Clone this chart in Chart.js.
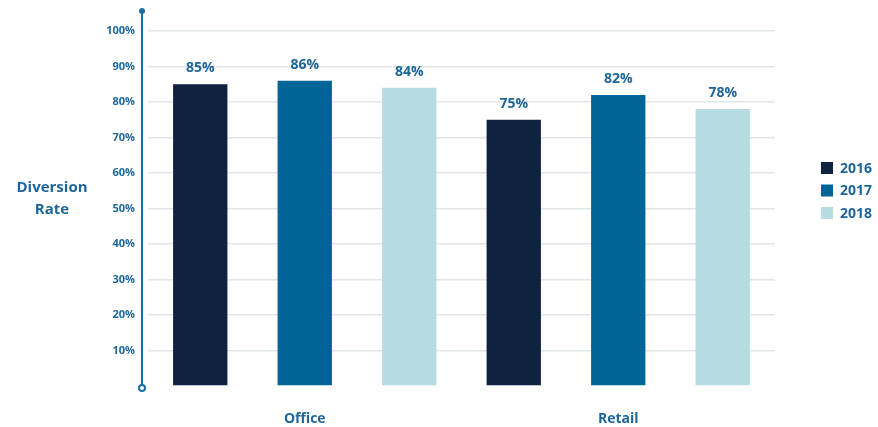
<!DOCTYPE html>
<html>
<head>
<meta charset="utf-8">
<script src="https://cdn.jsdelivr.net/npm/chart.js@4"></script>
<style>
  html, body { margin: 0; padding: 0; background: #fff; }
  #wrap { width: 878px; height: 427px; position: relative; }
</style>
</head>
<body>
<div id="wrap"><canvas id="chart"></canvas></div>
<script>
const categories = ['Office', 'Retail'];
const years = ['2016', '2017', '2018'];
const rate2016 = [85, 75];
const rate2017 = [86, 82];
const rate2018 = [84, 78];
const yTicks = [10, 20, 30, 40, 50, 60, 70, 80, 90, 100];

const colors = ['#0f2240', '#006496', '#b7dbe3'];
const textBlue = '#1e6699';
const fontFam = '"Open Sans", Lato, sans-serif';

// axis line, data labels, side title and legend
const extras = {
    id: 'extras',
    afterDatasetsDraw(chart) {
        const ctx = chart.ctx;
        const area = chart.chartArea;
        ctx.save();
        // vertical axis with dot on top and ring at bottom
        const ax = 142;
        ctx.strokeStyle = '#1a6ea3';
        ctx.lineWidth = 2;
        ctx.beginPath();
        ctx.moveTo(ax, 11);
        ctx.lineTo(ax, area.bottom - 1);
        ctx.stroke();
        ctx.fillStyle = '#1a6ea3';
        ctx.beginPath();
        ctx.arc(ax, 11, 3, 0, Math.PI * 2);
        ctx.fill();
        ctx.fillStyle = '#fff';
        ctx.beginPath();
        ctx.arc(ax, area.bottom + 2, 3, 0, Math.PI * 2);
        ctx.fill();
        ctx.stroke();

        // value labels
        ctx.fillStyle = textBlue;
        ctx.font = 'bold 14px ' + fontFam;
        ctx.textAlign = 'center';
        ctx.textBaseline = 'bottom';
        chart.data.datasets.forEach((ds, i) => {
            chart.getDatasetMeta(i).data.forEach((bar, j) => {
                ctx.fillText(ds.data[j] + '%', bar.x, bar.y - 9);
            });
        });

        // side title
        ctx.font = 'bold 15px ' + fontFam;
        ctx.textBaseline = 'middle';
        ctx.fillText('Diversion', 52, 188);
        ctx.fillText('Rate', 52, 210);

        // legend
        ctx.font = 'bold 14px ' + fontFam;
        ctx.textAlign = 'left';
        chart.data.datasets.forEach((ds, i) => {
            const y = 168 + i * 22.5;
            ctx.fillStyle = ds.backgroundColor;
            ctx.fillRect(821, y - 6, 12, 12);
            ctx.fillStyle = textBlue;
            ctx.fillText(ds.label, 840, y + 1);
        });
        ctx.restore();
    }
};

new Chart(document.getElementById('chart').getContext('2d'), {
    type: 'bar',
    data: {
        labels: categories,
        datasets: [
            { label: years[0], data: rate2016, backgroundColor: colors[0] },
            { label: years[1], data: rate2017, backgroundColor: colors[1] },
            { label: years[2], data: rate2018, backgroundColor: colors[2] }
        ]
    },
    options: {
        responsive: true,
        maintainAspectRatio: false,
        animation: false,
        layout: { padding: { top: 31, right: 103, left: 0, bottom: 0 } },
        datasets: {
            bar: { categoryPercentage: 1.0, barPercentage: 0.52 }
        },
        plugins: {
            legend: { display: false },
            tooltip: { enabled: false }
        },
        scales: {
            x: {
                grid: { display: false },
                border: { display: false },
                ticks: {
                    color: textBlue,
                    font: { family: fontFam, size: 14, weight: 'bold' },
                    padding: 17
                },
                afterFit(scale) { scale.height = 41; }
            },
            y: {
                min: 0,
                max: 100,
                border: { display: false },
                afterBuildTicks(scale) {
                    scale.ticks = [0].concat(yTicks).map(v => ({ value: v }));
                },
                grid: {
                    color: c => c.tick.value === 0 ? 'rgba(0,0,0,0)' : '#dfe5e8',
                    lineWidth: 1.5,
                    drawTicks: false
                },
                ticks: {
                    color: textBlue,
                    font: { family: fontFam, size: 11, weight: 'bold' },
                    padding: 13,
                    callback: v => v === 0 ? '' : v + '%'
                },
                afterFit(scale) { scale.width = 148; }
            }
        }
    },
    plugins: [extras]
});
</script>
</body>
</html>
